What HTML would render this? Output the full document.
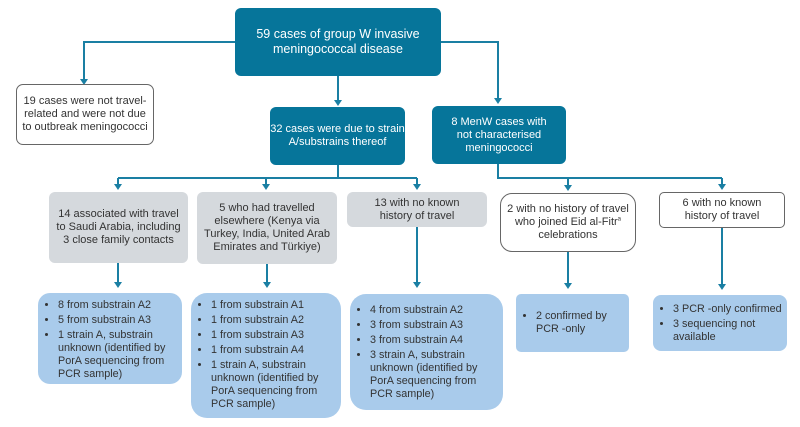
<!DOCTYPE html>
<html><head><meta charset="utf-8"><style>
body{margin:0;width:800px;height:427px;background:#fff;position:relative;font-family:"Liberation Sans",sans-serif;overflow:hidden}
.b{position:absolute;box-sizing:border-box;display:flex;align-items:center;justify-content:center;text-align:center;font-size:11px;line-height:13px;color:#333}
.d{background:#06759a;color:#fff;border-radius:6px}
.w{background:#fff;border:1px solid #666;border-radius:7px}
.g{background:#d5d9dd;border-radius:6px}
.l{background:#a9cbeb;border-radius:12px;justify-content:flex-start;text-align:left;align-items:flex-start}
ul{margin:0;padding:0 2px 0 20px;font-size:10.8px;line-height:13px}
li{margin:0 0 2px 0}
svg{position:absolute;left:0;top:0}
</style></head><body>
<svg width="800" height="427">
<g stroke="#1a7fa3" stroke-width="2" fill="none">
<path d="M235,42 H84 V80"/>
<path d="M441,42 H498 V100"/>
<path d="M338,76 V101"/>
<path d="M338,165 V178 M118,178 H417 M498,164 V178 H722"/>
<path d="M118,178 V186 M266,178 V186 M417,178 V186 M568,178 V187 M722,178 V186"/>
<path d="M118,263 V284 M267,264 V284 M417,227 V284 M568,252 V285 M722,228 V286"/>
</g>
<g fill="#1a7fa3">
<path d="M80,79 h8 l-4,6z"/>
<path d="M494,98 h8 l-4,6z"/>
<path d="M334,100 h8 l-4,6z"/>
<path d="M114,184 h8 l-4,6z"/><path d="M262,184 h8 l-4,6z"/><path d="M413,184 h8 l-4,6z"/><path d="M564,185 h8 l-4,6z"/><path d="M718,184 h8 l-4,6z"/>
<path d="M114,282 h8 l-4,6z"/><path d="M263,282 h8 l-4,6z"/><path d="M413,282 h8 l-4,6z"/><path d="M564,283 h8 l-4,6z"/><path d="M718,284 h8 l-4,6z"/>
</g></svg>
<div class="b d" style="left:235px;top:8px;width:206px;height:68px;font-size:12.5px;line-height:15px"><span>59 cases of group W invasive<br>meningococcal disease</span></div>
<div class="b w" style="left:16px;top:84px;width:138px;height:61px"><span>19 cases were not travel-<br>related and were not due<br>to outbreak meningococci</span></div>
<div class="b d" style="left:270px;top:107px;width:135px;height:58px"><span>32 cases were due to strain<br>A/substrains thereof</span></div>
<div class="b d" style="left:432px;top:106px;width:134px;height:58px"><span>8 MenW cases with<br>not characterised<br>meningococci</span></div>
<div class="b g" style="left:49px;top:192px;width:139px;height:71px"><span>14 associated with travel<br>to Saudi Arabia, including<br>3 close family contacts</span></div>
<div class="b g" style="left:197px;top:192px;width:140px;height:72px"><span>5 who had travelled<br>elsewhere (Kenya via<br>Turkey, India, United Arab<br>Emirates and Türkiye)</span></div>
<div class="b g" style="left:347px;top:192px;width:140px;height:35px"><span>13 with no known<br>history of travel</span></div>
<div class="b w" style="left:500px;top:193px;width:136px;height:59px;border-radius:12px"><span>2 with no history of travel<br>who joined Eid al-Fitr<sup style="font-size:6px;line-height:0">a</sup><br>celebrations</span></div>
<div class="b w" style="left:659px;top:192px;width:126px;height:36px;border-radius:5px"><span>6 with no known<br>history of travel</span></div>
<div class="b l" style="left:38px;top:293px;width:144px;height:91px;padding-top:6px"><ul><li>8 from substrain A2</li><li>5 from substrain A3</li><li>1 strain A, substrain unknown (identified by PorA sequencing from PCR sample)</li></ul></div>
<div class="b l" style="left:191px;top:293px;width:150px;height:125px;padding-top:6px;border-radius:16px"><ul><li>1 from substrain A1</li><li>1 from substrain A2</li><li>1 from substrain A3</li><li>1 from substrain A4</li><li>1 strain A, substrain unknown (identified by PorA sequencing from PCR sample)</li></ul></div>
<div class="b l" style="left:350px;top:294px;width:153px;height:116px;padding-top:10px;border-radius:16px"><ul style="padding-right:12px"><li>4 from substrain A2</li><li>3 from substrain A3</li><li>3 from substrain A4</li><li>3 strain A, substrain unknown (identified by PorA sequencing from PCR sample)</li></ul></div>
<div class="b l" style="left:516px;top:294px;width:113px;height:58px;border-radius:5px;padding-top:16px"><ul><li>2 confirmed by<br>PCR -only</li></ul></div>
<div class="b l" style="left:653px;top:295px;width:134px;height:56px;border-radius:8px;padding-top:8px"><ul style="padding-right:0"><li>3 PCR -only confirmed</li><li>3 sequencing not available</li></ul></div>
</body></html>
